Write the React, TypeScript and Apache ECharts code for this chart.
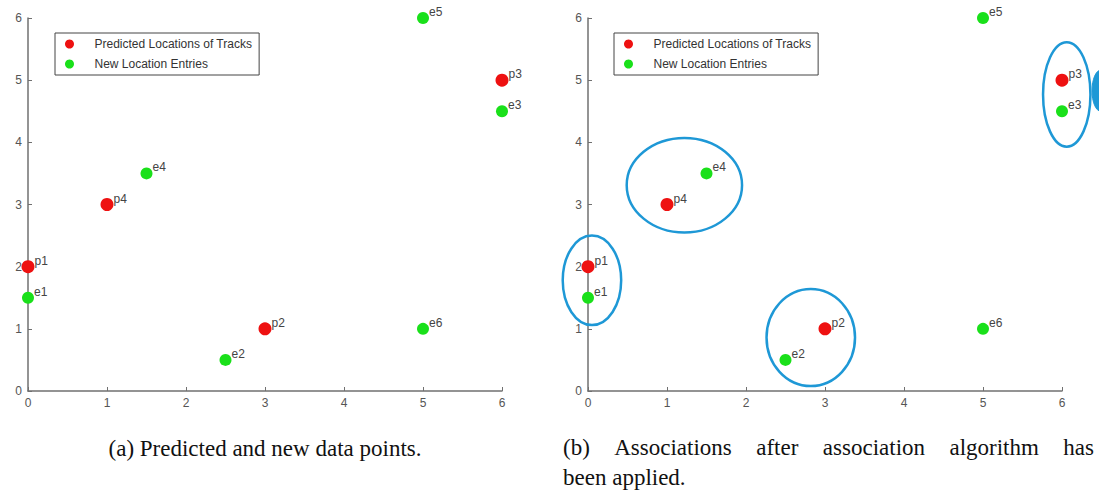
import React, { useEffect, useRef } from "react";
import * as echarts from "echarts";

const seriesNames = ["Predicted Locations of Tracks", "New Location Entries"];
const predictedPoints = [
  [0, 2],
  [3, 1],
  [6, 5],
  [1, 3],
];
const predictedLabels = ["p1", "p2", "p3", "p4"];
const entryPoints = [
  [0, 1.5],
  [2.5, 0.5],
  [6, 4.5],
  [1.5, 3.5],
  [5, 6],
  [5, 1],
];
const entryLabels = ["e1", "e2", "e3", "e4", "e5", "e6"];
const axisMin = 0;
const axisMax = 6;
const tickStep = 1;
// [centerX, centerY, radiusX, radiusY] in data units
const associationEllipses = [
  [0.05, 1.78, 0.37, 0.72],
  [1.22, 3.31, 0.73, 0.76],
  [2.82, 0.86, 0.56, 0.78],
  [6.06, 4.77, 0.3, 0.84],
];
const edgeBlob = [[6.49, 4.83, 0.11, 0.33]];
const captionA = "(a) Predicted and new data points.";
const captionB1 = "(b) Associations after association algorithm has";
const captionB2 = "been applied.";

const RED = "#ee1111";
const GREEN = "#1ae01a";
const BLUE = "#1e98d6";
const AXIS = "#707070";
const CAP_FONT = '23px "Liberation Serif"';

function justifiedWords(text: string, x0: number, x1: number, y: number) {
  const words = text.split(" ");
  const ctx = document.createElement("canvas").getContext("2d");
  let widths = words.map((w) => w.length * 10);
  if (ctx) {
    ctx.font = CAP_FONT;
    widths = words.map((w) => ctx.measureText(w).width);
  }
  const total = widths.reduce((a, b) => a + b, 0);
  const gap = (x1 - x0 - total) / (words.length - 1);
  let x = x0;
  return words.map((w, i) => {
    const el = {
      type: "text",
      x,
      y,
      style: {
        text: w,
        font: CAP_FONT,
        fill: "#111",
        textAlign: "left",
        textVerticalAlign: "middle",
      },
    };
    x += widths[i] + gap;
    return el;
  });
}

function axisCommon(gridIndex: number) {
  return {
    type: "value",
    gridIndex,
    min: axisMin,
    max: axisMax,
    interval: tickStep,
    axisLine: { show: true, lineStyle: { color: AXIS, width: 1.5 } },
    axisTick: { show: true, inside: true, length: 4, lineStyle: { color: AXIS } },
    splitLine: { show: false },
    axisLabel: {
      color: "#555",
      fontSize: 12,
      fontFamily: "Liberation Sans",
      margin: 6,
    },
  };
}

function pointSeries(
  name: string,
  pts: number[][],
  labels: string[],
  color: string,
  size: number,
  idx: number
) {
  return {
    type: "scatter",
    name,
    xAxisIndex: idx,
    yAxisIndex: idx,
    symbol: "circle",
    symbolSize: size,
    itemStyle: { color, opacity: 1 },
    data: pts.map((p, i) => ({ value: p, name: labels[i] })),
    label: {
      show: true,
      formatter: "{b}",
      position: "right",
      distance: 0,
      offset: [0, -6],
      fontSize: 12,
      fontFamily: "Liberation Sans",
      color: "#444",
    },
    z: 3,
  };
}

function ellipseSeries(data: number[][], filled: boolean) {
  return {
    type: "custom",
    xAxisIndex: 1,
    yAxisIndex: 1,
    clip: false,
    silent: true,
    z: 4,
    data,
    renderItem: (params: any, api: any) => {
      const c = api.coord([api.value(0), api.value(1)]);
      const s = api.size([api.value(2), api.value(3)]);
      return {
        type: "ellipse",
        shape: { cx: c[0], cy: c[1], rx: s[0], ry: s[1] },
        style: filled
          ? { fill: BLUE, stroke: BLUE, lineWidth: 1 }
          : { fill: "none", stroke: BLUE, lineWidth: 2.5 },
      };
    },
  };
}

function legendAt(left: number) {
  return {
    data: seriesNames,
    orient: "vertical",
    left,
    top: 33,
    icon: "circle",
    itemWidth: 40,
    itemHeight: 9,
    itemGap: 8,
    padding: [5, 7, 5, 10],
    borderColor: "#444",
    borderWidth: 1,
    borderRadius: 0,
    backgroundColor: "#fff",
    selectedMode: false,
    textStyle: {
      fontSize: 12,
      fontFamily: "Liberation Sans",
      color: "#333",
      width: 188,
    },
  };
}

export default function App() {
  const ref = useRef<HTMLDivElement>(null);
  useEffect(() => {
    if (!ref.current) return;
    const chart = echarts.init(ref.current, undefined, { renderer: "svg" });
    const option: any = {
      animation: false,
      backgroundColor: "#fff",
      grid: [
        { left: 28, top: 18, width: 474, height: 373 },
        { left: 588, top: 18, width: 474, height: 373 },
      ],
      xAxis: [axisCommon(0), axisCommon(1)],
      yAxis: [axisCommon(0), axisCommon(1)],
      legend: [legendAt(55), legendAt(614)],
      series: [
        pointSeries(seriesNames[0], predictedPoints, predictedLabels, RED, 13, 0),
        pointSeries(seriesNames[1], entryPoints, entryLabels, GREEN, 12, 0),
        pointSeries(seriesNames[0], predictedPoints, predictedLabels, RED, 13, 1),
        pointSeries(seriesNames[1], entryPoints, entryLabels, GREEN, 12, 1),
        ellipseSeries(associationEllipses, false),
        ellipseSeries(edgeBlob, true),
      ],
      graphic: [
        {
          type: "text",
          x: 265,
          y: 448,
          style: {
            text: captionA,
            font: CAP_FONT,
            fill: "#111",
            textAlign: "center",
            textVerticalAlign: "middle",
          },
        },
        ...justifiedWords(captionB1, 563, 1094, 447),
        {
          type: "text",
          x: 563,
          y: 477,
          style: {
            text: captionB2,
            font: CAP_FONT,
            fill: "#111",
            textAlign: "left",
            textVerticalAlign: "middle",
          },
        },
      ],
    };
    chart.setOption(option);
    return () => chart.dispose();
  }, []);
  return (
    <div
      ref={ref}
      style={{ position: "absolute", left: 0, top: 0, width: 1099, height: 493 }}
    />
  );
}
